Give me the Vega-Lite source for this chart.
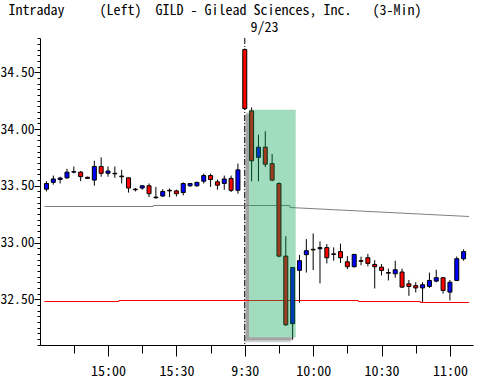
{
  "$schema": "https://vega.github.io/schema/vega-lite/v6.json",
  "width": 433,
  "height": 307,
  "autosize": {"type": "none"},
  "padding": {"left": 40, "top": 38, "right": 7, "bottom": 37},
  "background": "white",
  "config": {"view": {"stroke": null}},
  "datasets": {
    "bars": [
      {"k": -29, "o": 33.47, "h": 33.54, "l": 33.45, "c": 33.52},
      {"k": -28, "o": 33.53, "h": 33.59, "l": 33.51, "c": 33.56},
      {"k": -27, "o": 33.555, "h": 33.58, "l": 33.52, "c": 33.568},
      {"k": -26, "o": 33.57, "h": 33.65, "l": 33.56, "c": 33.62},
      {"k": -25, "o": 33.62, "h": 33.67, "l": 33.61, "c": 33.625},
      {"k": -24, "o": 33.62, "h": 33.63, "l": 33.54, "c": 33.58},
      {"k": -23, "o": 33.575, "h": 33.58, "l": 33.56, "c": 33.565},
      {"k": -22, "o": 33.55, "h": 33.72, "l": 33.5, "c": 33.67},
      {"k": -21, "o": 33.67, "h": 33.75, "l": 33.58, "c": 33.61},
      {"k": -20, "o": 33.61, "h": 33.67, "l": 33.58, "c": 33.63},
      {"k": -19, "o": 33.61, "h": 33.67, "l": 33.57, "c": 33.605},
      {"k": -18, "o": 33.585, "h": 33.64, "l": 33.52, "c": 33.58},
      {"k": -17, "o": 33.57, "h": 33.57, "l": 33.44, "c": 33.48},
      {"k": -16, "o": 33.47, "h": 33.48, "l": 33.45, "c": 33.465},
      {"k": -15, "o": 33.48, "h": 33.505, "l": 33.465, "c": 33.5},
      {"k": -14, "o": 33.5, "h": 33.52, "l": 33.4, "c": 33.43},
      {"k": -13, "o": 33.4, "h": 33.49, "l": 33.385, "c": 33.395},
      {"k": -12, "o": 33.41, "h": 33.47, "l": 33.4, "c": 33.45},
      {"k": -11, "o": 33.46, "h": 33.475, "l": 33.4, "c": 33.455},
      {"k": -10, "o": 33.455, "h": 33.465, "l": 33.405, "c": 33.43},
      {"k": -9, "o": 33.44, "h": 33.53, "l": 33.415, "c": 33.52},
      {"k": -8, "o": 33.5, "h": 33.525, "l": 33.49, "c": 33.52},
      {"k": -7, "o": 33.5, "h": 33.535, "l": 33.49, "c": 33.53},
      {"k": -6, "o": 33.54, "h": 33.607, "l": 33.52, "c": 33.59},
      {"k": -5, "o": 33.59, "h": 33.607, "l": 33.49, "c": 33.555},
      {"k": -4, "o": 33.535, "h": 33.555, "l": 33.465, "c": 33.505},
      {"k": -3, "o": 33.52, "h": 33.59, "l": 33.465, "c": 33.56},
      {"k": -2, "o": 33.565, "h": 33.59, "l": 33.445, "c": 33.46},
      {"k": -1, "o": 33.46, "h": 33.695, "l": 33.43, "c": 33.64},
      {"k": 0, "o": 34.7, "h": 34.71, "l": 34.17, "c": 34.18},
      {"k": 1, "o": 34.16, "h": 34.19, "l": 33.54, "c": 33.72},
      {"k": 2, "o": 33.75, "h": 33.95, "l": 33.54, "c": 33.84},
      {"k": 3, "o": 33.84, "h": 33.98, "l": 33.665, "c": 33.69},
      {"k": 4, "o": 33.695, "h": 33.78, "l": 33.54, "c": 33.55},
      {"k": 5, "o": 33.52, "h": 33.53, "l": 32.87, "c": 32.88},
      {"k": 6, "o": 32.88, "h": 33.055, "l": 32.265, "c": 32.275},
      {"k": 7, "o": 32.285, "h": 32.78, "l": 32.145, "c": 32.78},
      {"k": 8, "o": 32.755, "h": 32.89, "l": 32.47, "c": 32.84},
      {"k": 9, "o": 32.893, "h": 33.03, "l": 32.735, "c": 32.928},
      {"k": 10, "o": 32.94, "h": 33.08, "l": 32.757, "c": 32.935},
      {"k": 11, "o": 32.945, "h": 33.01, "l": 32.64, "c": 32.955},
      {"k": 12, "o": 32.955, "h": 32.986, "l": 32.816, "c": 32.866},
      {"k": 13, "o": 32.9, "h": 32.957, "l": 32.84, "c": 32.895},
      {"k": 14, "o": 32.92, "h": 32.99, "l": 32.82, "c": 32.866},
      {"k": 15, "o": 32.83, "h": 32.88, "l": 32.765, "c": 32.787},
      {"k": 16, "o": 32.787, "h": 32.9, "l": 32.78, "c": 32.895},
      {"k": 17, "o": 32.84, "h": 32.875, "l": 32.8, "c": 32.835},
      {"k": 18, "o": 32.866, "h": 32.9, "l": 32.79, "c": 32.816},
      {"k": 19, "o": 32.807, "h": 32.845, "l": 32.595, "c": 32.787},
      {"k": 20, "o": 32.783, "h": 32.81, "l": 32.71, "c": 32.754},
      {"k": 21, "o": 32.735, "h": 32.77, "l": 32.666, "c": 32.73},
      {"k": 22, "o": 32.725, "h": 32.84, "l": 32.69, "c": 32.76},
      {"k": 23, "o": 32.74, "h": 32.77, "l": 32.6, "c": 32.607},
      {"k": 24, "o": 32.636, "h": 32.67, "l": 32.53, "c": 32.613},
      {"k": 25, "o": 32.62, "h": 32.65, "l": 32.56, "c": 32.6},
      {"k": 26, "o": 32.6, "h": 32.65, "l": 32.475, "c": 32.628},
      {"k": 27, "o": 32.613, "h": 32.735, "l": 32.6, "c": 32.666},
      {"k": 28, "o": 32.66, "h": 32.76, "l": 32.65, "c": 32.69},
      {"k": 29, "o": 32.69, "h": 32.69, "l": 32.55, "c": 32.578},
      {"k": 30, "o": 32.563, "h": 32.67, "l": 32.49, "c": 32.65},
      {"k": 31, "o": 32.666, "h": 32.877, "l": 32.66, "c": 32.857},
      {"k": 32, "o": 32.857, "h": 32.94, "l": 32.84, "c": 32.92}
    ],
    "gray": [
      {"k": -29.3, "p": 33.3173},
      {"k": -13.4, "p": 33.3173},
      {"k": -13.4, "p": 33.3261},
      {"k": 6.6, "p": 33.3261},
      {"k": 6.6, "p": 33.3085},
      {"k": 32.8, "p": 33.2292}
    ],
    "red": [
      {"k": -29.3, "p": 32.4802},
      {"k": -18.4, "p": 32.4802},
      {"k": -18.4, "p": 32.489},
      {"k": 16.6, "p": 32.489},
      {"k": 16.6, "p": 32.4802},
      {"k": 25.7, "p": 32.4802},
      {"k": 25.7, "p": 32.4714},
      {"k": 32.8, "p": 32.4714}
    ],
    "box": [{"k1": 0.63, "k2": 7.45, "p1": 32.165, "p2": 34.17}],
    "sep": [{"k": 0}]
  },
  "resolve": {"axis": {"x": "independent", "y": "independent"}},
  "layer": [
    {
      "data": {"name": "box"},
      "mark": {"type": "rect", "color": "#6a6a6a", "opacity": 0.3, "xOffset": -5, "x2Offset": -5, "yOffset": 5, "y2Offset": 5},
      "encoding": {
        "x": {"field": "k1", "type": "quantitative", "scale": {"domain": [-29.214, 32.643], "nice": false, "zero": false}, "axis": null},
        "x2": {"field": "k2"},
        "y": {"field": "p1", "type": "quantitative", "scale": {"domain": [32.097, 34.802], "nice": false, "zero": false}, "axis": null},
        "y2": {"field": "p2"}
      }
    },
    {
      "data": {"name": "box"},
      "mark": {"type": "rect", "color": "#6a6a6a", "opacity": 0.45, "xOffset": -3, "x2Offset": -3, "yOffset": 3, "y2Offset": 3},
      "encoding": {
        "x": {"field": "k1", "type": "quantitative", "scale": {"domain": [-29.214, 32.643], "nice": false, "zero": false}, "axis": null},
        "x2": {"field": "k2"},
        "y": {"field": "p1", "type": "quantitative", "scale": {"domain": [32.097, 34.802], "nice": false, "zero": false}, "axis": null},
        "y2": {"field": "p2"}
      }
    },
    {
      "data": {"name": "box"},
      "mark": {"type": "rect", "color": "white", "opacity": 1},
      "encoding": {
        "x": {"field": "k1", "type": "quantitative", "scale": {"domain": [-29.214, 32.643], "nice": false, "zero": false}, "axis": null},
        "x2": {"field": "k2"},
        "y": {"field": "p1", "type": "quantitative", "scale": {"domain": [32.097, 34.802], "nice": false, "zero": false}, "axis": null},
        "y2": {"field": "p2"}
      }
    },
    {
      "data": {"name": "sep"},
      "mark": {"type": "rule", "color": "black", "strokeWidth": 1, "strokeDash": [6, 2, 1, 2]},
      "encoding": {
        "x": {"field": "k", "type": "quantitative", "scale": {"domain": [-29.214, 32.643], "nice": false, "zero": false},
          "axis": {"orient": "top", "title": "9/23", "labels": false, "ticks": false, "domain": false, "grid": false,
            "titleX": 224, "titleY": -7, "titleAlign": "center", "titleBaseline": "alphabetic", "titleAngle": 0,
            "titleFont": "Noto Sans Mono CJK JP, Liberation Mono, monospace", "titleFontSize": 14, "titleFontWeight": "normal", "titleColor": "black"}}
      }
    },
    {
      "data": {"name": "gray"},
      "mark": {"type": "line", "color": "#808080", "strokeWidth": 1, "clip": true, "interpolate": "linear"},
      "encoding": {
        "x": {"field": "k", "type": "quantitative", "scale": {"domain": [-29.214, 32.643], "nice": false, "zero": false},
          "axis": {"orient": "top", "title": "Intraday\u00a0\u00a0\u00a0\u00a0\u00a0(Left)\u00a0\u00a0GILD\u00a0-\u00a0Gilead\u00a0Sciences,\u00a0Inc.\u00a0\u00a0\u00a0(3-Min)", "labels": false, "ticks": false, "domain": false, "grid": false,
            "titleX": -32, "titleY": -24, "titleAlign": "left", "titleBaseline": "alphabetic", "titleAngle": 0, "titleLimit": 0,
            "titleFont": "Noto Sans Mono CJK JP, Liberation Mono, monospace", "titleFontSize": 14, "titleFontWeight": "normal", "titleColor": "black"}},
        "y": {"field": "p", "type": "quantitative", "scale": {"domain": [32.097, 34.802], "nice": false, "zero": false}, "axis": null},
        "order": {"value": 0}
      }
    },
    {
      "data": {"name": "red"},
      "mark": {"type": "line", "color": "#ff0000", "strokeWidth": 1, "clip": true, "interpolate": "linear"},
      "encoding": {
        "x": {"field": "k", "type": "quantitative", "scale": {"domain": [-29.214, 32.643], "nice": false, "zero": false}, "axis": null},
        "y": {"field": "p", "type": "quantitative", "scale": {"domain": [32.097, 34.802], "nice": false, "zero": false}, "axis": null},
        "order": {"value": 0}
      }
    },
    {
      "data": {"name": "bars"},
      "mark": {"type": "rule", "color": "black", "strokeWidth": 1, "clip": true},
      "encoding": {
        "x": {"field": "k", "type": "quantitative", "scale": {"domain": [-29.214, 32.643], "nice": false, "zero": false}, "axis": null},
        "y": {"field": "l", "type": "quantitative", "scale": {"domain": [32.097, 34.802], "nice": false, "zero": false}, "axis": null},
        "y2": {"field": "h"}
      }
    },
    {
      "data": {"name": "bars"},
      "mark": {"type": "bar", "size": 4, "stroke": "black", "strokeWidth": 1, "clip": true},
      "encoding": {
        "x": {"field": "k", "type": "quantitative", "scale": {"domain": [-29.214, 32.643], "nice": false, "zero": false},
          "axis": {"orient": "bottom", "title": null, "grid": false,
            "values": [-25, -20, -15, -10, -5, 0, 5, 10, 15, 20, 25, 30],
            "labelExpr": "datum.value == -20 ? '15:00' : datum.value == -10 ? '15:30' : datum.value == 0 ? '9:30' : datum.value == 10 ? '10:00' : datum.value == 20 ? '10:30' : datum.value == 30 ? '11:00' : ''",
            "tickSize": {"condition": {"test": "datum.value % 10 == 0", "value": 11}, "value": 8},
            "labelOverlap": false, "labelFlush": false,
            "domainColor": "black", "tickColor": "black", "domainWidth": 1, "tickWidth": 1,
            "labelColor": "black", "labelFont": "Noto Sans Mono CJK JP, Liberation Mono, monospace", "labelFontSize": 14, "labelPadding": 8}},
        "y": {"field": "o", "type": "quantitative", "scale": {"domain": [32.097, 34.802], "nice": false, "zero": false},
          "axis": {"orient": "left", "title": null, "grid": false,
            "values": [32.1,32.15,32.2,32.25,32.3,32.35,32.4,32.45,32.5,32.55,32.6,32.65,32.7,32.75,32.8,32.85,32.9,32.95,33,33.05,33.1,33.15,33.2,33.25,33.3,33.35,33.4,33.45,33.5,33.55,33.6,33.65,33.7,33.75,33.8,33.85,33.9,33.95,34,34.05,34.1,34.15,34.2,34.25,34.3,34.35,34.4,34.45,34.5,34.55,34.6,34.65,34.7,34.75,34.8],
            "labelExpr": "abs(datum.value * 2 - round(datum.value * 2)) < 0.001 ? format(datum.value, '.2f') : ''",
            "tickSize": {"condition": {"test": "abs(datum.value * 2 - round(datum.value * 2)) < 0.001", "value": 6}, "value": 3},
            "labelOverlap": false, "labelFlush": false,
            "domainColor": "black", "tickColor": "black", "domainWidth": 1, "tickWidth": 1,
            "labelColor": "black", "labelFont": "Noto Sans Mono CJK JP, Liberation Mono, monospace", "labelFontSize": 13.6, "labelPadding": 0}},
        "y2": {"field": "c"},
        "color": {"condition": {"test": "datum.c >= datum.o", "value": "#0000ff"}, "value": "#ff0000"}
      }
    },
    {
      "data": {"name": "box"},
      "mark": {"type": "rect", "color": "#00a050", "opacity": 0.37},
      "encoding": {
        "x": {"field": "k1", "type": "quantitative", "scale": {"domain": [-29.214, 32.643], "nice": false, "zero": false}, "axis": null},
        "x2": {"field": "k2"},
        "y": {"field": "p1", "type": "quantitative", "scale": {"domain": [32.097, 34.802], "nice": false, "zero": false}, "axis": null},
        "y2": {"field": "p2"}
      }
    }
  ]
}
